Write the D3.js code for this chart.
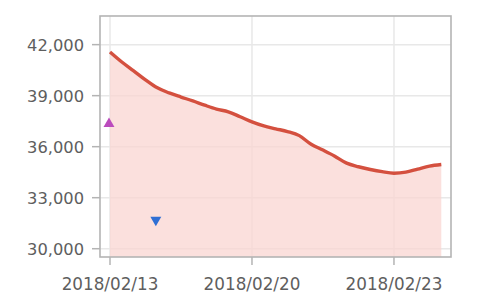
<!DOCTYPE html>
<html>
<head>
<meta charset="utf-8">
<script src="https://cdn.jsdelivr.net/npm/d3@7"></script>
<style>
  body { margin: 0; background: #fff; }
  svg { display: block; }
  text { font-family: "DejaVu Sans", Verdana, sans-serif; fill: #5e5e5e; }
</style>
</head>
<body>
<svg width="500" height="304"></svg>
<script>
// series values, one per step along the x axis
var values = [41570, 40980, 40460, 39930, 39460, 39160, 38920, 38690, 38440, 38210,
              38050, 37760, 37460, 37220, 37050, 36890, 36650, 36140, 35800, 35440,
              35030, 34820, 34660, 34530, 34440, 34500, 34680, 34860, 34950];
// single markers
var upMarkers = [{ i: 0, v: 37350 }];
var downMarkers = [{ i: 4, v: 31700 }];
// tick labels
var xTickIndex = [0, 12, 24];
var xTickLabels = ['2018/02/13', '2018/02/20', '2018/02/23'];
var yTicks = [30000, 33000, 36000, 39000, 42000];

window.onload = function() {
   var svg = d3.select('svg');
   var left = 100, right = 451, top = 16, bottom = 257;

   var x = d3.scaleLinear()
      .domain([0, 28])
      .range([110, 441.3]);
   var y = d3.scaleLinear()
      .domain([29513, 43684])
      .range([bottom, top]);

   // grid
   var grid = svg.append('g').classed('grid', true);
   grid.selectAll('line.h')
      .data(yTicks)
      .enter()
      .append('line')
      .attr('x1', left).attr('x2', right)
      .attr('y1', function(d) { return y(d); })
      .attr('y2', function(d) { return y(d); })
      .attr('stroke', '#e8e8e8')
      .attr('stroke-width', 1.5);
   grid.selectAll('line.v')
      .data(xTickIndex)
      .enter()
      .append('line')
      .attr('y1', top).attr('y2', bottom)
      .attr('x1', function(d) { return x(d); })
      .attr('x2', function(d) { return x(d); })
      .attr('stroke', '#e8e8e8')
      .attr('stroke-width', 1.5);

   // area + line
   var area = d3.area()
      .x(function(d, i) { return x(i); })
      .y0(bottom)
      .y1(function(d) { return y(d); })
      .curve(d3.curveMonotoneX);
   var line = d3.line()
      .x(function(d, i) { return x(i); })
      .y(function(d) { return y(d); })
      .curve(d3.curveMonotoneX);

   // grid shows faintly through the fill
   svg.append('path')
      .datum(values)
      .attr('d', area)
      .attr('fill', '#f9d6d1')
      .attr('fill-opacity', 0.75);

   svg.append('path')
      .datum(values)
      .attr('d', line)
      .attr('fill', 'none')
      .attr('stroke', '#d4503f')
      .attr('stroke-width', 3.4)
      .attr('stroke-linejoin', 'round');

   // markers
   var tri = d3.symbol().type(d3.symbolTriangle).size(52);
   svg.selectAll('path.up')
      .data(upMarkers)
      .enter()
      .append('path')
      .attr('d', tri)
      .attr('transform', function(d) { return 'translate(' + (x(d.i) - 1) + ',' + y(d.v) + ')'; })
      .attr('fill', '#bb4bbd');
   svg.selectAll('path.down')
      .data(downMarkers)
      .enter()
      .append('path')
      .attr('d', tri)
      .attr('transform', function(d) { return 'translate(' + (x(d.i) - 1.5) + ',' + y(d.v) + ') rotate(180)'; })
      .attr('fill', '#2f6fd4');

   // frame
   svg.append('rect')
      .attr('x', left).attr('y', top)
      .attr('width', right - left).attr('height', bottom - top)
      .attr('fill', 'none')
      .attr('stroke', '#b4b4b4')
      .attr('stroke-width', 1.6);

   // y axis ticks + labels
   var ya = svg.append('g').classed('yaxis', true);
   ya.selectAll('line')
      .data(yTicks)
      .enter()
      .append('line')
      .attr('x1', 92).attr('x2', left)
      .attr('y1', function(d) { return y(d); })
      .attr('y2', function(d) { return y(d); })
      .attr('stroke', '#b4b4b4')
      .attr('stroke-width', 1.5);
   ya.selectAll('text')
      .data(yTicks)
      .enter()
      .append('text')
      .attr('x', 84)
      .attr('y', function(d) { return y(d); })
      .attr('dy', '0.36em')
      .attr('text-anchor', 'end')
      .attr('font-size', 16.3)
      .text(d3.format(','));

   // x axis ticks + labels
   var xa = svg.append('g').classed('xaxis', true);
   xa.selectAll('line')
      .data(xTickIndex)
      .enter()
      .append('line')
      .attr('y1', bottom).attr('y2', 265)
      .attr('x1', function(d) { return x(d); })
      .attr('x2', function(d) { return x(d); })
      .attr('stroke', '#b4b4b4')
      .attr('stroke-width', 1.5);
   xa.selectAll('text')
      .data(xTickIndex)
      .enter()
      .append('text')
      .attr('x', function(d) { return x(d); })
      .attr('y', 289.5)
      .attr('text-anchor', 'middle')
      .attr('font-size', 16.8)
      .text(function(d, i) { return xTickLabels[i]; });
};
</script>
</body>
</html>
